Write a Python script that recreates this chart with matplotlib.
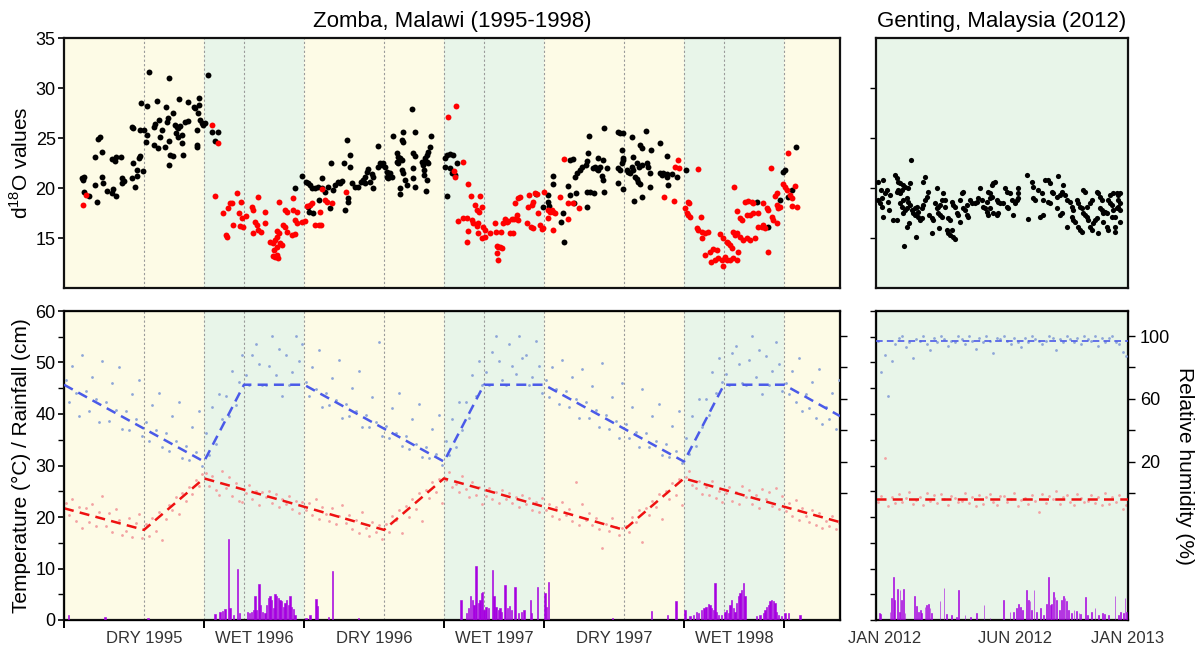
import numpy as np
import matplotlib
matplotlib.use("Agg")
import matplotlib.pyplot as plt

plt.rcParams['font.family'] = ['Liberation Sans', 'DejaVu Sans']

# ---- Zomba, Malawi: time axis in months from May 1995 ----
dry_spans = [(0, 7), (12, 19), (24, 31), (36, 38.8)]
wet_spans = [(7, 12), (19, 24), (31, 36)]
month_lines = [4, 7, 9, 12, 16, 19, 21, 24, 28, 31, 33, 36]
season_ticks = [0, 7, 12, 19, 24, 31, 36]
season_label_pos = [4, 9.5, 15.5, 21.5, 27.5, 33.5]
season_labels = ["DRY 1995", "WET 1996", "DRY 1996", "WET 1997", "DRY 1997", "WET 1998"]

# d18O, samples from dry-season style (black) and wet-season style (red)
zomba_black = [
    (0.9, 21.0), (0.95, 20.8), (1.0, 21.1), (0.98, 19.6), (1.27, 19.2), (1.67, 18.6), (1.55, 20.3),
    (1.7, 24.9), (1.8, 25.1), (1.92, 23.6), (1.55, 23.1), (1.88, 21.1), (1.97, 20.5), (2.17, 19.7),
    (2.38, 19.5), (2.6, 19.2), (2.47, 19.9), (2.38, 22.9), (2.55, 22.7), (2.6, 23.1), (2.83, 23.1),
    (2.88, 21.0), (2.88, 20.5), (3.0, 20.7), (3.38, 21.0), (3.55, 20.1), (3.47, 22.5), (3.63, 21.8),
    (3.67, 21.2), (3.77, 23.0), (3.8, 23.2), (3.97, 21.7), (3.38, 26.1), (3.47, 26.0), (3.83, 28.5),
    (4.13, 28.2), (3.8, 25.8), (4.0, 25.8), (4.13, 25.3), (4.08, 24.6), (4.27, 31.6), (4.52, 26.1),
    (4.55, 26.4), (4.77, 26.8), (4.67, 28.7), (4.5, 24.3), (4.72, 24.0), (4.8, 25.1), (4.88, 25.8),
    (5.1, 28.1), (5.13, 26.6), (5.22, 27.0), (5.25, 22.3), (5.3, 23.3), (5.47, 23.2), (5.05, 24.1),
    (5.27, 24.7), (5.43, 27.5), (5.27, 31.0), (5.55, 26.3), (5.63, 26.1), (5.72, 26.0), (5.8, 26.2),
    (5.6, 25.5), (5.72, 25.1), (5.88, 25.3), (5.77, 28.9), (5.88, 24.5), (5.97, 23.3), (6.05, 26.6),
    (6.22, 26.7), (6.22, 28.6), (6.5, 28.1), (6.55, 28.0), (6.63, 24.3), (6.67, 24.1), (6.67, 25.8),
    (6.77, 29.0), (6.73, 28.3), (6.8, 26.8), (6.88, 26.5), (6.97, 26.3), (7.05, 26.5), (6.72, 27.5),
    (7.22, 31.3), (7.38, 25.6), (7.55, 24.7), (7.72, 25.6),
    (11.55, 20.0), (11.88, 21.2), (12.1, 20.6), (12.22, 20.5), (12.3, 20.3), (12.38, 20.0),
    (12.55, 20.0), (12.72, 20.1), (12.88, 20.0), (12.27, 17.6), (12.47, 17.5), (12.22, 18.1),
    (12.77, 18.8), (12.88, 21.0), (13.05, 19.6), (13.22, 20.1), (13.35, 22.5), (13.3, 18.0),
    (13.47, 19.8), (13.55, 20.3), (13.72, 20.6), (13.8, 20.5), (13.88, 20.7), (14.02, 22.5),
    (14.05, 17.8), (14.13, 24.8), (14.3, 23.3), (14.22, 19.0), (14.22, 18.6), (14.3, 22.1),
    (14.38, 20.5), (14.55, 20.1), (14.72, 20.1), (14.83, 20.6), (14.97, 20.8), (15.05, 21.1),
    (15.13, 21.6), (15.22, 21.9), (15.05, 20.5), (15.3, 20.6), (15.47, 20.0), (15.38, 21.4),
    (15.47, 21.1), (15.72, 22.1), (15.8, 22.5), (15.88, 22.3), (15.72, 24.2), (15.97, 22.5),
    (16.05, 22.1), (16.13, 21.1), (16.22, 21.0), (16.17, 21.6), (16.3, 21.5), (16.38, 21.1),
    (16.43, 25.2), (16.63, 23.5), (16.63, 22.6), (16.72, 22.5), (16.72, 23.1), (16.8, 23.0),
    (16.88, 22.8), (16.8, 20.0), (16.8, 19.4), (16.88, 24.8), (16.97, 24.6), (16.93, 25.6),
    (16.88, 21.8), (16.97, 21.5), (17.05, 20.8), (17.13, 20.3), (17.38, 27.9), (17.55, 25.6),
    (17.47, 23.5), (17.55, 23.2), (17.47, 21.0), (17.55, 20.1), (17.43, 22.0),
    (17.88, 22.6), (17.97, 22.3), (18.0, 21.8), (18.13, 22.6), (18.22, 22.5), (18.05, 23.0),
    (18.17, 23.3), (18.22, 23.6), (18.3, 24.1), (18.33, 25.2), (18.0, 21.3), (18.13, 20.8),
    (18.1, 19.7), (19.05, 23.0), (19.13, 23.3), (19.3, 23.4), (19.47, 23.3), (19.05, 22.1),
    (19.3, 22.0), (19.38, 21.5), (19.55, 21.3), (19.13, 19.2), (19.63, 22.5),
    (23.6, 19.4), (23.97, 18.1), (24.22, 19.3), (24.22, 18.6), (24.25, 18.2), (24.47, 21.2),
    (24.47, 20.4), (24.85, 16.6), (25.02, 14.6), (24.97, 17.5), (25.22, 20.2), (25.3, 19.3),
    (25.3, 22.8), (25.47, 22.9), (25.6, 19.5), (25.5, 18.5), (25.55, 21.1), (25.63, 21.5),
    (25.8, 21.8), (25.88, 22.1), (26.08, 22.3), (26.13, 22.7), (26.22, 23.5), (26.27, 25.2),
    (26.13, 19.6), (26.3, 19.6), (26.52, 19.5), (26.17, 18.1), (26.47, 22.0), (26.55, 22.1),
    (26.63, 21.9), (26.72, 21.8), (26.8, 22.1), (26.72, 23.0), (26.97, 22.8), (26.88, 21.2),
    (26.97, 20.8), (27.0, 19.6), (27.13, 22.0), (27.0, 26.0), (27.72, 25.6), (27.8, 25.5),
    (27.97, 25.5), (27.88, 23.8), (27.93, 23.0), (27.97, 22.8), (27.72, 22.0), (27.8, 21.8),
    (27.88, 22.5), (27.72, 20.5), (27.97, 19.9), (28.13, 21.8), (28.22, 21.6), (28.3, 21.5),
    (28.38, 22.1), (28.47, 21.8), (28.38, 25.1), (28.47, 23.1), (28.55, 21.1), (28.63, 20.9),
    (28.72, 20.6), (28.8, 20.4), (28.63, 22.5), (28.77, 22.1), (28.88, 22.3), (28.8, 24.3),
    (28.88, 24.0), (28.52, 18.7), (28.88, 19.1), (29.08, 25.7), (29.13, 22.5), (29.22, 22.1),
    (29.3, 21.5), (29.33, 23.8), (29.3, 20.1), (29.8, 24.5), (29.8, 21.5), (29.88, 21.3),
    (29.97, 21.5), (30.13, 21.4), (30.13, 23.2), (30.22, 20.3), (30.13, 21.1), (30.38, 21.4),
    (30.63, 21.1), (31.08, 21.8), (34.63, 18.6), (35.18, 16.1), (35.8, 18.8), (35.97, 21.6),
    (36.05, 21.8), (36.22, 19.1), (36.38, 19.8), (36.6, 24.1),
]
zomba_red = [
    (0.97, 18.3), (1.1, 19.3), (7.38, 26.3), (7.72, 24.5), (7.55, 19.2), (8.1, 15.3), (8.13, 15.1),
    (7.93, 17.5), (8.22, 18.0), (8.3, 18.5), (8.38, 18.5), (8.67, 19.5), (8.47, 16.3), (8.77, 17.5),
    (8.88, 17.0), (8.8, 16.2), (8.97, 16.1), (9.1, 17.2), (8.83, 18.6), (9.38, 18.1), (9.47, 17.8),
    (9.72, 19.1), (9.43, 15.5), (9.55, 16.6), (9.63, 16.3), (9.72, 15.8), (9.83, 15.6), (10.05, 17.6),
    (10.05, 16.5), (10.3, 14.6), (10.47, 14.5), (10.55, 14.8), (10.63, 15.1), (10.43, 13.2),
    (10.55, 13.1), (10.67, 13.3), (10.72, 13.0), (10.52, 13.8), (10.63, 14.1), (10.8, 14.5),
    (10.88, 14.3), (10.77, 18.6), (10.63, 15.7), (10.77, 15.5), (10.93, 16.3), (11.05, 16.1),
    (11.13, 15.6), (11.05, 17.8), (11.13, 17.6), (11.47, 19.0), (11.43, 17.8), (11.63, 17.6),
    (11.55, 16.8), (11.63, 16.5), (11.38, 15.3), (11.55, 15.4), (11.88, 16.6), (12.05, 16.7),
    (12.13, 18.2), (12.3, 18.3), (12.38, 18.5), (12.8, 17.6), (12.77, 16.3), (12.55, 16.3),
    (12.88, 19.9), (13.05, 18.8), (13.13, 18.6), (13.38, 18.5), (14.08, 19.6), (12.83, 16.3),
    (19.22, 27.1), (19.6, 28.2), (19.93, 22.6), (19.5, 21.7), (19.55, 21.1), (20.18, 20.4),
    (20.35, 19.2), (20.8, 19.2), (20.55, 18.3), (20.77, 17.6), (20.67, 17.8), (20.88, 18.1),
    (19.72, 16.7), (19.97, 16.97), (20.13, 16.97), (20.38, 16.8), (20.47, 16.5), (20.63, 16.2),
    (20.72, 16.5), (20.22, 15.7), (20.72, 15.5), (20.88, 15.0), (21.05, 15.1), (20.97, 16.1),
    (21.05, 15.8), (20.17, 14.6), (21.3, 15.5), (21.6, 15.6), (21.83, 15.6), (21.55, 16.5),
    (21.67, 14.2), (21.8, 14.1), (21.88, 14.0), (21.72, 14.1), (21.63, 13.5), (21.72, 12.8),
    (22.05, 16.9), (22.22, 16.7), (22.38, 16.9), (22.5, 16.9), (22.72, 16.8), (21.97, 16.5),
    (22.13, 16.6), (22.3, 15.5), (22.47, 15.5), (22.55, 18.5), (22.72, 19.0), (22.8, 19.1),
    (22.63, 17.3), (23.13, 16.5), (23.33, 16.1), (23.47, 16.0), (23.18, 18.1), (23.27, 19.3),
    (23.38, 18.3), (23.47, 18.6), (23.55, 19.5), (23.63, 19.4), (23.72, 17.5), (23.8, 16.3),
    (23.88, 15.9), (23.97, 16.0), (24.02, 19.6), (24.22, 17.8), (24.3, 17.6), (24.38, 17.8),
    (24.47, 17.6), (24.55, 17.5), (24.22, 17.0), (24.43, 15.8), (24.8, 19.1), (25.02, 22.9),
    (25.22, 18.5), (25.22, 16.9), (25.47, 18.5), (25.75, 18.0),
    (30.02, 19.1), (30.52, 18.7), (30.55, 22.1), (30.68, 22.8), (30.77, 22.0), (31.22, 18.6),
    (31.27, 18.5), (31.05, 18.0), (31.13, 17.5), (31.22, 17.3), (31.3, 17.1), (31.72, 21.9),
    (31.83, 17.1), (31.63, 16.0), (31.72, 15.8), (31.88, 15.6), (32.05, 15.5), (32.22, 15.6),
    (31.88, 15.0), (32.05, 13.3), (32.3, 13.6), (32.47, 13.9), (32.63, 13.8), (32.33, 12.6),
    (32.55, 12.8), (32.72, 13.0), (32.88, 12.8), (32.93, 12.2), (32.8, 15.4), (32.97, 15.0),
    (33.13, 14.6), (33.22, 14.5), (33.3, 14.3), (33.38, 14.0), (33.05, 13.1), (33.13, 12.8),
    (33.3, 12.8), (33.47, 13.0), (33.63, 12.8), (33.72, 13.6), (33.47, 15.6), (33.55, 15.3),
    (33.63, 15.5), (33.8, 15.1), (33.97, 14.8), (34.13, 15.0), (33.5, 20.1), (33.63, 17.7),
    (33.8, 17.0), (33.88, 16.8), (34.05, 18.6), (34.22, 18.7), (34.38, 18.6), (34.47, 18.5),
    (34.13, 17.3), (34.3, 17.3), (34.47, 17.5), (34.72, 17.5), (34.3, 14.8), (34.55, 15.0),
    (34.72, 16.1), (34.88, 16.1), (34.97, 16.3), (35.05, 16.0), (34.97, 18.5), (35.13, 18.0),
    (35.22, 17.8), (35.18, 13.6), (35.35, 22.0), (35.38, 17.1), (35.47, 16.8), (35.63, 16.5),
    (35.63, 18.3), (35.72, 18.0), (35.8, 18.1), (35.55, 19.2), (35.63, 19.5), (35.97, 20.4),
    (36.05, 20.1), (36.22, 23.5), (36.13, 19.8), (36.3, 19.3), (36.38, 19.0), (36.55, 20.2),
    (36.63, 18.1), (36.38, 18.2),
]

# daily temperature / humidity samples, grouped by month
zomba_temp = [
    [22.8, 20.4, 23.5, 19.2, 21.9, 17.8], [21.7, 19.0, 22.6, 18.3, 20.9, 24.1],
    [18.2, 20.8, 17.1, 21.5, 19.4, 16.6], [17.3, 19.9, 16.2, 18.8, 20.6, 15.9],
    [18.7, 16.4, 19.8, 17.2, 21.0, 15.6], [19.6, 22.4, 21.3, 23.8, 20.5, 24.6],
    [23.1, 25.9, 24.4, 27.2, 26.0, 28.3], [28.6, 26.1, 27.9, 25.2, 24.3, 29.0],
    [25.7, 27.8, 24.1, 26.6, 23.2, 22.9], [24.6, 26.3, 23.5, 25.0, 22.4, 24.9],
    [23.8, 25.1, 22.7, 24.4, 21.9, 23.4], [22.5, 24.0, 21.6, 23.2, 20.8, 22.9],
    [21.4, 22.8, 20.3, 23.5, 19.6, 21.9], [20.6, 19.2, 21.8, 18.7, 20.1, 22.3],
    [18.9, 20.4, 17.6, 19.5, 16.9, 21.0], [17.8, 16.3, 19.1, 17.0, 18.4, 15.8],
    [18.6, 17.1, 20.2, 19.4, 21.3, 16.9], [22.1, 20.0, 23.4, 21.5, 24.7, 19.3],
    [25.3, 23.6, 26.8, 24.9, 27.4, 22.8], [27.1, 28.7, 25.9, 26.4, 24.8, 28.0],
    [25.4, 23.9, 26.7, 24.3, 25.8, 22.6], [24.1, 25.6, 23.4, 24.9, 22.7, 25.2],
    [23.5, 24.6, 22.8, 23.9, 22.0, 24.2], [22.6, 23.7, 21.4, 23.0, 20.9, 23.6],
    [21.3, 22.5, 20.2, 21.9, 19.6, 22.9], [20.4, 21.6, 19.3, 26.7, 18.5, 22.6],
    [19.5, 20.7, 18.4, 19.9, 17.6, 14.0], [18.6, 17.2, 19.8, 18.0, 16.6, 17.9],
    [18.3, 17.0, 20.0, 19.1, 21.4, 15.2], [21.8, 20.3, 23.2, 22.0, 24.5, 19.6],
    [25.0, 23.5, 26.6, 24.2, 27.3, 22.4], [27.8, 28.9, 26.3, 25.6, 27.0, 24.5],
    [25.8, 24.2, 26.9, 23.6, 25.1, 22.9], [24.6, 25.9, 23.2, 24.8, 22.5, 26.0],
    [23.9, 25.2, 22.6, 24.3, 21.8, 25.5], [23.4, 24.8, 22.2, 25.6, 21.5, 24.0],
    [21.2, 22.7, 20.1, 23.3, 19.5, 21.8], [20.1, 19.0, 21.4, 18.4, 20.7, 17.9],
    [19.3, 18.2, 20.2, 17.6, 18.8, 17.3],
]
zomba_rh = [
    [72, 58, 81, 64, 49, 88], [65, 52, 74, 60, 45, 84], [58, 46, 70, 53, 80, 41],
    [52, 40, 63, 47, 72, 36], [45, 33, 56, 40, 64, 29], [38, 27, 49, 33, 58, 22],
    [30, 21, 42, 26, 52, 17], [38, 24, 55, 31, 63, 47], [62, 49, 78, 56, 71, 88],
    [75, 69, 88, 95, 82, 69], [69, 81, 100, 75, 92, 62], [88, 69, 77, 100, 84, 95],
    [71, 62, 80, 66, 91, 55], [64, 56, 73, 59, 85, 48], [57, 49, 67, 52, 78, 42],
    [50, 42, 61, 45, 96, 36], [43, 35, 54, 38, 64, 30], [36, 28, 47, 31, 57, 23],
    [29, 22, 41, 25, 50, 18], [33, 24, 47, 29, 58, 40], [58, 48, 75, 62, 84, 69],
    [77, 69, 90, 100, 84, 72], [69, 95, 81, 76, 100, 86], [88, 69, 74, 97, 81, 64],
    [72, 61, 80, 66, 57, 85], [65, 55, 74, 60, 48, 79], [58, 48, 68, 53, 42, 83],
    [50, 41, 61, 46, 35, 70], [44, 35, 55, 39, 29, 66], [38, 29, 49, 33, 57, 24],
    [31, 23, 43, 27, 52, 19], [35, 25, 49, 30, 60, 42], [60, 50, 77, 64, 86, 71],
    [76, 69, 89, 94, 82, 70], [69, 85, 100, 74, 91, 63], [87, 69, 78, 96, 82, 65],
    [70, 63, 78, 58, 86, 52], [63, 54, 71, 48, 79, 44], [55, 47, 64, 41, 72, 38],
]
# seasonal trend lines
temp_knot_m = [0, 4, 7, 12, 16, 19, 24, 28, 31, 36, 38.8]
temp_knot_v = [21.7, 17.5, 27.5, 22.0, 17.5, 27.5, 22.0, 17.5, 27.5, 22.0, 19.0]
rh_knot_m = [0, 7, 9, 12, 19, 21, 24, 31, 33, 36, 38.8]
rh_knot_v = [69, 20, 69, 69, 20, 69, 69, 20, 69, 69, 49]

# daily rainfall (cm)
zomba_rain = [
    (0.22, 1.0), (2.05, 0.5), (4.2, 0.3), (7.55, 1.2), (7.8, 1.6), (7.93, 1.8), (8.05, 2.1),
    (8.23, 15.7), (8.3, 2.3), (8.47, 1.0), (8.68, 9.9), (8.77, 1.3), (9.17, 1.6), (9.27, 1.4),
    (9.38, 1.6), (9.47, 2.0), (9.55, 4.7), (9.63, 2.0), (9.75, 6.9), (9.83, 2.9), (9.93, 1.6),
    (10.05, 1.3), (10.13, 2.9), (10.22, 4.2), (10.3, 4.6), (10.38, 3.9), (10.47, 2.4),
    (10.55, 5.1), (10.63, 4.6), (10.72, 4.2), (10.8, 3.9), (10.88, 3.6), (10.97, 2.6),
    (11.05, 3.3), (11.13, 3.9), (11.22, 2.9), (11.3, 4.7), (11.38, 2.6), (11.47, 2.1),
    (11.55, 1.0), (12.1, 0.3), (12.3, 1.0), (12.6, 4.1), (12.67, 2.7), (13.22, 0.5),
    (13.42, 9.5), (14.72, 0.3),
    (19.85, 3.9), (20.13, 1.3), (20.22, 2.3), (20.33, 4.7), (20.43, 3.9), (20.5, 2.9),
    (20.6, 10.5), (20.72, 3.3), (20.8, 3.9), (20.88, 5.2), (20.93, 5.4), (21.0, 2.0),
    (21.1, 2.6), (21.22, 2.3), (21.42, 9.8), (21.5, 4.6), (21.6, 2.6), (21.72, 2.0),
    (21.8, 2.3), (21.88, 1.6), (22.05, 6.7), (22.17, 2.3), (22.27, 2.7), (22.38, 2.0),
    (22.55, 6.4), (22.72, 1.3), (22.88, 1.6), (23.0, 2.0), (23.33, 3.8), (23.38, 1.3),
    (23.67, 6.5), (24.05, 5.2), (24.13, 2.6), (24.22, 7.3), (27.42, 0.3),
    (29.38, 1.8), (30.17, 1.0), (30.6, 3.7), (31.05, 2.0), (31.3, 0.7), (31.47, 1.0),
    (31.63, 1.6), (31.72, 1.4), (31.88, 2.0), (32.0, 2.3), (32.1, 2.6), (32.22, 3.1),
    (32.3, 2.9), (32.38, 2.3), (32.47, 2.0), (32.55, 7.1), (32.63, 1.6), (32.72, 1.0),
    (32.88, 1.0), (33.05, 1.6), (33.13, 2.0), (33.22, 1.4), (33.3, 2.9), (33.38, 3.9),
    (33.47, 2.3), (33.55, 1.6), (33.63, 3.3), (33.72, 4.6), (33.8, 5.2), (33.88, 5.9),
    (33.97, 7.1), (34.05, 4.6), (34.63, 0.8), (34.8, 1.0), (34.97, 1.3), (35.05, 2.0),
    (35.13, 2.6), (35.22, 2.9), (35.3, 3.6), (35.38, 3.8), (35.47, 3.6), (35.55, 3.3),
    (35.63, 1.6), (35.72, 1.0), (35.88, 0.7), (36.05, 1.3), (36.22, 1.3), (36.8, 1.0),
]

# ---- Genting, Malaysia 2012: months from Jan 2012 ----
genting_d18o = [
    (0.11, 18.8), (0.19, 18.5), (0.27, 19.0), (0.35, 20.8), (0.3, 18.1), (0.35, 17.1), (0.11, 20.6),
    (0.22, 19.8), (0.43, 19.5), (0.51, 19.8), (0.59, 18.6), (0.63, 17.8), (0.67, 19.3), (0.83, 16.8),
    (0.98, 16.8), (0.9, 21.3), (0.98, 21.0), (1.06, 20.6), (1.14, 20.5), (0.98, 19.6), (1.06, 19.8),
    (1.14, 19.5), (1.22, 19.8), (1.3, 20.3), (1.38, 20.1), (1.54, 20.0), (1.62, 20.5), (1.14, 18.5),
    (1.22, 18.1), (1.3, 17.5), (1.38, 17.8), (1.46, 18.0), (1.3, 18.8), (1.46, 19.0), (1.54, 18.6),
    (1.62, 18.3), (1.49, 16.1), (1.59, 16.5), (1.33, 14.2), (1.67, 22.8), (1.7, 17.8), (1.78, 17.5),
    (1.86, 18.0), (1.94, 18.1), (2.02, 17.6), (1.86, 17.3), (2.02, 17.1), (2.1, 16.8), (2.17, 17.0),
    (1.9, 15.1), (2.17, 18.0), (2.25, 18.3), (2.33, 18.8), (2.41, 19.1), (2.25, 20.6), (2.33, 21.1),
    (2.46, 19.6), (2.54, 17.3), (2.65, 17.0), (2.73, 16.8), (2.65, 15.5), (2.81, 18.5), (2.89, 18.0),
    (2.97, 18.1), (3.05, 18.3), (3.13, 18.8), (3.21, 19.5), (2.92, 20.0), (2.97, 17.5), (3.05, 17.3),
    (3.13, 17.1), (3.02, 16.0), (3.29, 18.8), (3.29, 18.1), (3.44, 17.0), (3.52, 16.8), (3.37, 15.8),
    (3.44, 15.5), (3.52, 15.3), (3.68, 15.1), (3.76, 14.9), (3.6, 15.8), (3.6, 18.6), (3.68, 18.3),
    (3.76, 18.1), (3.84, 17.5), (3.92, 17.3), (4.0, 16.6), (4.0, 18.8), (4.08, 19.5), (4.16, 19.6),
    (4.16, 18.0), (4.24, 17.8), (4.32, 18.3), (4.32, 17.3), (4.4, 17.1), (4.48, 18.8), (4.56, 18.5),
    (4.71, 18.5), (4.79, 18.6), (4.87, 19.0), (4.95, 20.0), (5.03, 18.8), (5.11, 18.1), (5.19, 18.0),
    (5.27, 17.6), (5.35, 17.3), (5.27, 18.6), (5.43, 19.0), (5.51, 19.1), (5.35, 19.6), (5.43, 19.5),
    (5.51, 20.3), (5.59, 20.5), (5.67, 20.6), (5.43, 18.0), (5.59, 17.5), (5.75, 17.3), (5.83, 17.5),
    (5.75, 18.8), (5.83, 18.6), (5.9, 18.5), (6.14, 20.0), (6.22, 19.6), (6.38, 19.5), (6.06, 18.5),
    (6.22, 18.1), (6.3, 18.0), (6.46, 18.8), (6.62, 18.5), (6.54, 17.3), (6.78, 20.0), (6.78, 19.5),
    (6.78, 19.0), (6.7, 18.8), (7.17, 21.3), (7.25, 16.9), (7.41, 20.6), (7.49, 20.1), (7.49, 19.0),
    (7.56, 18.8), (7.73, 19.8), (7.89, 19.5), (7.97, 18.8), (7.81, 17.1), (7.97, 17.3), (8.05, 20.8),
    (8.21, 20.8), (8.29, 20.5), (8.37, 19.6), (8.21, 18.6), (8.29, 18.5), (8.68, 21.2), (8.44, 19.5),
    (8.6, 19.1), (8.76, 19.3), (8.84, 19.6), (8.92, 20.3), (8.6, 18.0), (8.76, 17.3), (8.84, 17.5),
    (9.0, 19.3), (9.08, 18.8), (9.08, 16.1), (9.24, 18.6), (9.32, 18.1), (9.4, 17.8), (9.32, 17.1),
    (9.4, 16.8), (9.48, 16.6), (9.56, 18.8), (9.63, 18.5), (9.71, 18.1), (9.79, 18.0), (9.63, 16.1),
    (9.71, 15.8), (9.79, 15.6), (9.87, 19.8), (9.95, 19.6), (9.87, 17.5), (9.95, 17.3), (10.03, 17.1),
    (10.11, 16.8), (10.03, 18.1), (10.19, 18.5), (10.27, 18.8), (10.19, 16.1), (10.27, 15.8),
    (10.35, 16.5), (10.43, 16.8), (10.51, 17.0), (10.59, 15.5), (10.51, 19.6), (10.59, 19.5),
    (10.67, 19.1), (10.75, 18.8), (10.67, 18.0), (10.75, 17.8), (10.83, 17.5), (10.9, 17.6),
    (10.98, 17.5), (10.83, 16.6), (10.98, 16.1), (11.06, 15.8), (11.06, 18.8), (11.14, 18.5),
    (11.22, 18.3), (11.14, 19.3), (11.3, 19.5), (11.46, 19.5), (11.54, 19.3), (11.62, 19.5),
    (11.3, 17.8), (11.46, 18.0), (11.54, 18.1), (11.62, 17.8), (11.38, 16.1), (11.38, 15.6),
    (11.22, 17.1), (11.38, 17.1), (11.62, 16.6), (11.54, 18.8), (11.62, 18.5),
]
genting_temp = [
    [23.0, 24.1, 31.4, 22.2, 23.8, 22.8], [24.4, 22.9, 23.6, 24.9, 22.5, 23.3],
    [23.9, 22.4, 24.6, 23.1, 24.2, 22.7], [24.5, 23.4, 22.3, 24.0, 23.7, 22.9],
    [23.2, 24.7, 22.8, 23.9, 22.1, 24.3], [22.6, 23.8, 24.4, 23.0, 22.4, 24.0],
    [24.1, 22.9, 23.5, 24.6, 22.2, 23.3], [23.7, 22.5, 24.3, 23.1, 21.0, 24.5],
    [22.8, 24.0, 23.4, 25.0, 22.6, 23.9], [24.2, 23.0, 22.4, 24.4, 23.6, 22.9],
    [23.1, 24.3, 22.7, 23.8, 22.3, 24.6], [22.5, 23.9, 22.9, 24.2, 21.5, 22.4],
]
genting_rh = [
    [97, 77, 88, 62, 84, 95], [99, 100, 93, 96, 86, 98], [97, 100, 95, 91, 99, 96],
    [100, 98, 94, 97, 96, 100], [98, 95, 100, 97, 92, 99], [96, 100, 97, 89, 99, 98],
    [100, 97, 95, 99, 96, 93], [99, 96, 100, 98, 97, 95], [97, 100, 99, 91, 98, 96],
    [100, 98, 96, 99, 95, 100], [98, 97, 100, 94, 99, 96], [99, 100, 96, 95, 90, 87],
]
genting_temp_mean = 23.4
genting_rh_mean = 96.8
genting_rain = [
    (0.16, 1.3), (0.22, 1.2), (0.67, 1.6), (0.75, 4.2), (0.83, 8.4), (0.9, 3.9), (1.03, 6.1),
    (1.1, 1.6), (1.14, 5.8), (1.22, 3.9), (1.3, 6.0), (1.38, 1.3), (1.83, 4.7), (1.94, 2.7),
    (2.02, 1.6), (2.1, 1.9), (2.17, 1.4), (2.33, 2.6), (2.41, 2.9), (2.49, 3.1), (2.57, 2.3),
    (2.65, 1.3), (3.05, 3.6), (3.24, 6.3), (3.37, 1.2), (3.6, 1.0), (3.84, 0.6), (3.94, 5.8),
    (4.24, 1.0), (4.48, 0.6), (4.79, 1.4), (5.14, 2.9), (5.43, 0.3), (6.06, 3.9), (6.38, 1.6),
    (6.54, 1.6), (6.7, 2.3), (6.78, 3.2), (6.89, 2.6), (6.98, 1.9), (7.17, 5.8), (7.25, 3.9),
    (7.33, 3.6), (7.41, 1.9), (7.52, 5.8), (7.65, 1.6), (7.84, 2.3), (7.97, 1.0), (8.13, 3.2),
    (8.21, 8.4), (8.29, 2.9), (8.37, 3.2), (8.44, 5.5), (8.52, 4.5), (8.6, 3.9), (8.73, 1.9),
    (8.84, 3.9), (8.92, 4.7), (9.0, 4.2), (9.08, 3.6), (9.16, 1.9), (9.32, 1.4), (9.43, 1.9),
    (9.56, 1.8), (9.67, 1.4), (9.75, 1.2), (9.98, 4.5), (10.06, 1.0), (10.27, 1.6), (10.43, 2.3),
    (10.59, 1.0), (10.79, 1.3), (10.9, 1.2), (11.06, 1.0), (11.38, 4.7), (11.54, 1.0),
    (11.65, 1.6), (11.78, 1.3), (11.86, 4.2), (11.94, 1.6),
]
genting_label_pos = [0.4, 6.6, 12.0]
genting_labels = ["JAN 2012", "JUN 2012", "JAN 2013"]

YELLOW = '#fdfbe6'
GREEN = '#e8f5e9'
PURPLE = '#a600e0'
BLUE_LINE = '#4a5ae8'
RED_LINE = '#ee1111'
BLUE_DOT = '#8ea6d8'
PINK_DOT = '#f3a2a2'


def monthly_xy(groups):
    xs, ys = [], []
    for m, vals in enumerate(groups):
        for i, v in enumerate(vals):
            xs.append(m + (i + 0.5) / len(vals))
            ys.append(v)
    return np.array(xs), np.array(ys)


def pts(lst):
    a = np.array(lst)
    return a[:, 0], a[:, 1]


def frame(ax):
    for s in ax.spines.values():
        s.set_linewidth(1.6)
        s.set_color('#111111')


def seasons(ax):
    for a, b in dry_spans:
        ax.axvspan(a, b, color=YELLOW, lw=0, zorder=0)
    for a, b in wet_spans:
        ax.axvspan(a, b, color=GREEN, lw=0, zorder=0)
    for m in month_lines:
        ax.axvline(m, color='#9a9a9a', ls=(0, (2, 2)), lw=0.8, zorder=0.5)


fig = plt.figure(figsize=(11.97, 6.5), dpi=100)
L0, LW = 64 / 1197, 776 / 1197
R0, RW = 876 / 1197, 252 / 1197
T0, TH = 1 - 288 / 650, 250 / 650
B0, BH = 1 - 620 / 650, 309 / 650

# top left: Zomba d18O
ax1 = fig.add_axes([L0, T0, LW, TH])
seasons(ax1)
x, y = pts(zomba_black)
ax1.scatter(x, y, s=18, color='black', lw=0, zorder=3)
x, y = pts(zomba_red)
ax1.scatter(x, y, s=18, color='#ff0000', lw=0, zorder=3)
ax1.set_xlim(0, 38.8)
ax1.set_ylim(10, 35)
ax1.set_yticks([15, 20, 25, 30, 35])
ax1.set_xticks([])
ax1.tick_params(axis='y', labelsize=13, length=4, width=1.2, pad=2)
ax1.set_ylabel(r'd$^{\mathregular{18}}$O values', fontsize=15, labelpad=3)
ax1.set_title('Zomba, Malawi (1995-1998)', fontsize=16, pad=8)
frame(ax1)

# top right: Genting d18O
ax2 = fig.add_axes([R0, T0, RW, TH])
ax2.set_facecolor(GREEN)
x, y = pts(genting_d18o)
ax2.scatter(x, y, s=14, color='black', lw=0, zorder=3)
ax2.set_xlim(0, 12)
ax2.set_ylim(10, 35)
ax2.set_yticks([15, 20, 25, 30])
ax2.set_yticklabels([])
ax2.set_xticks([])
ax2.tick_params(axis='y', length=4, width=1)
ax2.set_title('Genting, Malaysia (2012)', fontsize=16, pad=8)
frame(ax2)

# bottom left: Zomba climate
ax3 = fig.add_axes([L0, B0, LW, BH])
seasons(ax3)
x, y = monthly_xy(zomba_temp)
ax3.scatter(x, y, s=4, color=PINK_DOT, lw=0, zorder=2)
ax3.plot(temp_knot_m, temp_knot_v, color=RED_LINE, ls=(0, (4, 2.5)), lw=1.8, zorder=3)
x, y = pts(zomba_rain)
ax3.bar(x, y, width=0.07, color=PURPLE, edgecolor=PURPLE, lw=0.4, zorder=3)
ax3.set_xlim(0, 38.8)
ax3.set_ylim(0, 60)
ax3.set_yticks(range(0, 61, 10))
ax3.set_yticks(range(5, 60, 10), minor=True)
ax3.set_xticks(season_ticks)
ax3.set_xticklabels([])
ax3.set_xticks(season_label_pos, minor=True)
ax3.set_xticklabels(season_labels, minor=True, fontsize=12, color='#333333')
ax3.tick_params(axis='x', which='major', length=6, width=1.4)
ax3.tick_params(axis='x', which='minor', length=0, pad=8)
ax3.tick_params(axis='y', which='major', labelsize=13, length=4, width=1.2, pad=2)
ax3.tick_params(axis='y', which='minor', length=4, width=1)
ax3.set_ylabel('Temperature (°C) / Rainfall (cm)', fontsize=15, labelpad=3)
frame(ax3)

ax3r = ax3.twinx()
x, y = monthly_xy(zomba_rh)
ax3r.scatter(x, y, s=4, color=BLUE_DOT, lw=0, zorder=2)
ax3r.plot(rh_knot_m, rh_knot_v, color=BLUE_LINE, ls=(0, (4, 2.5)), lw=1.8, zorder=3)
ax3r.set_ylim(-81, 116)
ax3r.set_yticks(range(0, 101, 20))
ax3r.set_yticklabels([])
ax3r.tick_params(axis='y', length=5, width=1)
ax3r.set_xlim(0, 38.8)

# bottom right: Genting climate
ax4 = fig.add_axes([R0, B0, RW, BH])
ax4.set_facecolor(GREEN)
x, y = monthly_xy(genting_temp)
ax4.scatter(x, y, s=4, color=PINK_DOT, lw=0, zorder=2)
ax4.axhline(genting_temp_mean, color=RED_LINE, ls=(0, (4, 2.5)), lw=1.8, zorder=3)
x, y = pts(genting_rain)
ax4.bar(x, y, width=0.04, color=PURPLE, edgecolor=PURPLE, lw=0.4, zorder=3)
ax4.set_xlim(0, 12)
ax4.set_ylim(0, 60)
ax4.set_yticks(range(0, 61, 5))
ax4.set_yticklabels([])
ax4.tick_params(axis='y', length=4, width=1)
ax4.set_xticks(genting_label_pos)
ax4.set_xticklabels(genting_labels, fontsize=12, color='#333333')
ax4.tick_params(axis='x', length=0, pad=8)
frame(ax4)

ax4r = ax4.twinx()
x, y = monthly_xy(genting_rh)
ax4r.scatter(x, y, s=4, color=BLUE_DOT, lw=0, zorder=2)
ax4r.axhline(genting_rh_mean, color=BLUE_LINE, ls=(0, (4, 2.5)), lw=1.2, zorder=3)
ax4r.set_ylim(-81, 116)
ax4r.set_yticks(range(0, 101, 20))
ax4r.set_yticklabels(['', '20', '', '60', '', '100'])
ax4r.tick_params(axis='y', labelsize=13, length=5, width=1)
ax4r.set_ylabel('Relative humidity (%)', fontsize=15, rotation=270, labelpad=17)
ax4r.set_xlim(0, 12)

fig.savefig('out.png', dpi=100)
